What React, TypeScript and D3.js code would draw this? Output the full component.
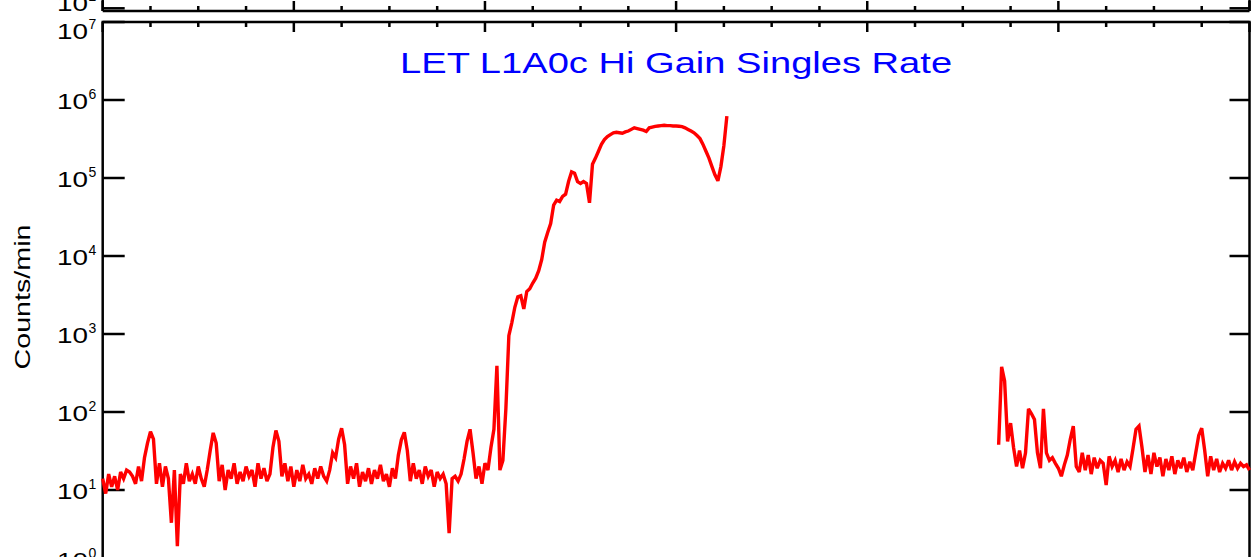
import React from 'react';
import * as d3 from 'd3';

const W = 1252;
const H = 557;

const TITLE = 'LET L1A0c Hi Gain Singles Rate';
const Y_LABEL = 'Counts/min';

// x axis: hours of day (labels fall outside the visible area)
const X_DOMAIN: [number, number] = [0, 24];
const X_MAJOR_STEP = 4;
const X_MINOR_STEP = 1;

// y axis decades (main panel) and the one visible decade of the panel above
const Y_DECADES = [0, 1, 2, 3, 4, 5, 6, 7];
const TOP_PANEL_DECADES = [2];

// segment 1: 0 h onward, cadence 0.0625 h
const seg1Start = 0;
const seg1Step = 0.0625;
const seg1Counts = [
  14, 9, 16, 11, 15, 10, 17, 14, 18, 17,
  15, 12, 20, 13, 26, 40, 56, 45, 12, 22,
  11, 20, 14, 3.8, 18, 1.9, 16, 12, 22, 13,
  16, 12, 20, 14, 11, 18, 32, 54, 40, 13,
  21, 10, 18, 14, 22, 12, 17, 13, 20, 15,
  18, 11, 22, 14, 19, 13, 16, 35, 58, 42,
  15, 22, 13, 20, 11, 18, 13, 21, 14, 16,
  12, 19, 14, 20, 15, 13, 18, 30, 26, 45,
  62, 38, 12, 20, 14, 22, 11, 17, 13, 19,
  12, 18, 14, 21, 13, 16, 11, 19, 14, 28,
  44, 55, 32, 13, 22, 14, 18, 12, 20, 15,
  18, 11, 17, 14, 16, 12, 2.8, 14, 15, 13,
  16, 25, 42, 60, 30, 14, 20, 12, 22, 18,
  35, 60, 390, 18, 24, 110, 950, 1400, 2200, 3000,
  3100, 2100, 3500, 3800, 4500, 5200, 6500, 9000, 15000, 20000,
  26000, 45000, 52000, 50000, 58000, 62000, 90000, 120000, 115000, 90000,
  85000, 90000, 85000, 48000, 150000, 180000, 220000, 270000, 310000, 340000,
  360000, 380000, 385000, 380000, 375000, 390000, 400000, 420000, 440000, 430000,
  420000, 410000, 395000, 440000, 450000, 460000, 465000, 470000, 475000, 470000,
  470000, 465000, 465000, 460000, 455000, 440000, 420000, 400000, 380000, 350000,
  320000, 270000, 220000, 180000, 140000, 110000, 92000, 140000, 260000, 620000,
];

// segment 2: from 18.75 h, cadence 0.0625 h
const seg2Start = 18.75;
const seg2Step = 0.0625;
const seg2Counts = [
  38, 380, 250, 42, 72, 35, 20, 32, 19, 30,
  110, 95, 80, 30, 19, 110, 30, 24, 26, 22,
  19, 15, 21, 28, 45, 66, 20, 17, 30, 18,
  28, 16, 26, 19, 24, 22, 11.6, 27, 20, 24,
  17, 25, 18, 23, 20, 34, 60, 66, 35, 17,
  28, 16, 30, 20, 26, 15, 25, 18, 27, 16,
  24, 19, 26, 17, 23, 18, 30, 50, 62, 32,
  15, 27, 18, 25, 17, 22, 19, 24, 18, 23,
  19, 22, 20, 21, 18,
];

const FONT = '"Liberation Sans", Arial, Helvetica, sans-serif';

export default function App() {
  const left = 102.7;
  const right = 1249.5;
  const top = 22;
  const bottom = 568;
  const topPanelBottom = 11;

  const x = d3.scaleLinear().domain(X_DOMAIN).range([left, right]);
  const y = d3.scaleLog().domain([1, 1e7]).range([bottom, top]);
  const yTop = d3
    .scaleLog()
    .domain([Math.pow(10, 2 - 2.7 / 78), 1e7])
    .range([topPanelBottom, 8.3 - 78 * 5]);

  const toPts = (start: number, step: number, vals: number[]) =>
    vals.map((v, i) => [start + i * step, v] as [number, number]);

  const line = d3
    .line<[number, number]>()
    .x((d) => x(d[0]))
    .y((d) => y(d[1]));

  const majors = d3.range(X_DOMAIN[0], X_DOMAIN[1] + 0.001, X_MAJOR_STEP);
  const minors = d3
    .range(X_DOMAIN[0], X_DOMAIN[1] + 0.001, X_MINOR_STEP)
    .filter((t) => !majors.includes(t));

  const sw = 2.5;

  const yLabel = (exp: number, yy: number, lo: number, hi: number, key: string) => {
    const c = Math.min(Math.max(yy, lo + 8.5), hi - 8.5);
    return (
      <g key={key}>
        <text
          x={57}
          y={c + 8.5}
          fontSize={22}
          fontFamily={FONT}
          textLength={31}
          lengthAdjust="spacingAndGlyphs"
          fill="#000"
        >
          10
        </text>
        <text x={88.5} y={c - 1.5} fontSize={14} fontFamily={FONT} fill="#000">
          {exp}
        </text>
      </g>
    );
  };

  return (
    <svg
      width={W}
      height={H}
      style={{ position: 'absolute', left: 0, top: 0, background: '#fff' }}
    >
      <rect x={0} y={0} width={W} height={H} fill="#fff" />

      {/* panel above (only its bottom edge is visible) */}
      <g stroke="#000" strokeWidth={sw} fill="none">
        <line x1={left} x2={right} y1={topPanelBottom} y2={topPanelBottom} />
        <line x1={left} x2={left} y1={-5} y2={topPanelBottom} />
        <line x1={right} x2={right} y1={-5} y2={topPanelBottom} />
        {majors.map((t) => (
          <line key={'tm' + t} x1={x(t)} x2={x(t)} y1={topPanelBottom} y2={topPanelBottom - 10} />
        ))}
        {minors.map((t) => (
          <line key={'tn' + t} x1={x(t)} x2={x(t)} y1={topPanelBottom} y2={topPanelBottom - 5} />
        ))}
        {TOP_PANEL_DECADES.map((e) => (
          <g key={'td' + e}>
            <line x1={left} x2={left + 22} y1={yTop(Math.pow(10, e))} y2={yTop(Math.pow(10, e))} />
            <line x1={right} x2={right - 20} y1={yTop(Math.pow(10, e))} y2={yTop(Math.pow(10, e))} />
          </g>
        ))}
      </g>
      {TOP_PANEL_DECADES.map((e) =>
        yLabel(e, yTop(Math.pow(10, e)), -400, topPanelBottom, 'tl' + e)
      )}

      {/* main panel frame */}
      <g stroke="#000" strokeWidth={sw} fill="none">
        <rect x={left} y={top} width={right - left} height={bottom - top} />
        {majors.map((t) => (
          <line key={'m' + t} x1={x(t)} x2={x(t)} y1={top} y2={top + 10} />
        ))}
        {minors.map((t) => (
          <line key={'n' + t} x1={x(t)} x2={x(t)} y1={top} y2={top + 5} />
        ))}
        {Y_DECADES.map((e) => (
          <g key={'yd' + e}>
            <line x1={left} x2={left + 22} y1={y(Math.pow(10, e))} y2={y(Math.pow(10, e))} />
            <line x1={right} x2={right - 20} y1={y(Math.pow(10, e))} y2={y(Math.pow(10, e))} />
          </g>
        ))}
      </g>
      {Y_DECADES.map((e) => yLabel(e, y(Math.pow(10, e)), top, bottom, 'yl' + e))}

      {/* data */}
      <g fill="none" stroke="#ff0000" strokeWidth={3.4} strokeLinejoin="miter" strokeMiterlimit={3}>
        <path d={line(toPts(seg1Start, seg1Step, seg1Counts)) || ''} />
        <path d={line(toPts(seg2Start, seg2Step, seg2Counts)) || ''} />
      </g>

      {/* title */}
      <text
        x={(left + right) / 2}
        y={73}
        textAnchor="middle"
        fontSize={30}
        fontFamily={FONT}
        fill="#0000ff"
        textLength={552}
        lengthAdjust="spacingAndGlyphs"
      >
        {TITLE}
      </text>

      {/* y axis label */}
      <text
        transform={`translate(30, 297) rotate(-90)`}
        textAnchor="middle"
        fontSize={22}
        fontFamily={FONT}
        fill="#000"
        textLength={145}
        lengthAdjust="spacingAndGlyphs"
      >
        {Y_LABEL}
      </text>
    </svg>
  );
}
